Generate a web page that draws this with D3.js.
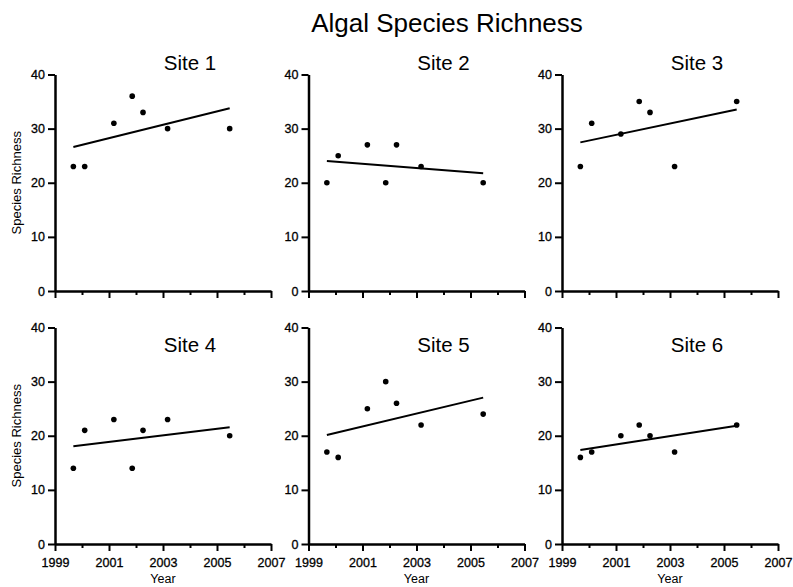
<!DOCTYPE html>
<html>
<head>
<meta charset="utf-8">
<script src="https://cdn.jsdelivr.net/npm/d3@7"></script>
<style>
  body { margin: 0; background: #fff; }
  svg { display: block; font-family: Arial, "Liberation Sans", sans-serif; }
</style>
</head>
<body>
<main></main>
<script>
// sampling dates (decimal years) shared by all sites
const years = [1999.68, 2000.1, 2001.18, 2001.86, 2002.26, 2003.17, 2005.47];

const siteNames = ['Site 1', 'Site 2', 'Site 3', 'Site 4', 'Site 5', 'Site 6'];

const site1 = [23, 23, 31, 36, 33, 30, 30];
const site2 = [20, 25, 27, 20, 27, 23, 20];
const site3 = [23, 31, 29, 35, 33, 23, 35];
const site4 = [14, 21, 23, 14, 21, 23, 20];
const site5 = [17, 16, 25, 30, 26, 22, 24];
const site6 = [16, 17, 20, 22, 20, 17, 22];

const siteValues = [site1, site2, site3, site4, site5, site6];

const majorYears = [1999, 2001, 2003, 2005, 2007];
const minorYears = [2000, 2002, 2004, 2006];
const yTicks = [0, 10, 20, 30, 40];

const w = 793;
const h = 587;
const panelW = 216;
const panelH = 216.5;
const left0 = 55;
const gapX = 37.5;
const top0 = 74.5;
const gapY = 36.5;

const svg = d3.select('main').append('svg').attr('width', w).attr('height', h);

const x = d3.scaleLinear().domain([1999, 2007]).range([0, panelW]);
const y = d3.scaleLinear().domain([0, 40]).range([panelH, 0]);

svg
  .append('text')
  .attr('x', 447)
  .attr('y', 32)
  .attr('text-anchor', 'middle')
  .style('font-size', '26px')
  .text('Algal Species Richness');

// simple least squares fit for each site
function fit(xs, ys) {
  const mx = d3.mean(xs);
  const my = d3.mean(ys);
  let sxy = 0;
  let sxx = 0;
  xs.forEach((v, i) => {
    sxy += (v - mx) * (ys[i] - my);
    sxx += (v - mx) * (v - mx);
  });
  const b = sxy / sxx;
  return (v) => my + b * (v - mx);
}

siteValues.forEach((vals, i) => {
  const col = i % 3;
  const row = Math.floor(i / 3);
  const g = svg
    .append('g')
    .attr('transform', `translate(${left0 + col * (panelW + gapX)},${top0 + row * (panelH + gapY)})`);

  // y axis
  const ya = g
    .append('g')
    .call(d3.axisLeft(y).tickValues(yTicks).tickSize(7).tickSizeOuter(0).tickPadding(3));

  // x axis, major then minor ticks
  const xa = g
    .append('g')
    .attr('transform', `translate(0,${panelH})`)
    .call(
      d3
        .axisBottom(x)
        .tickValues(majorYears)
        .tickFormat(row === 1 ? d3.format('d') : () => '')
        .tickSize(7)
        .tickSizeOuter(0)
        .tickPadding(7)
    );
  const xm = g
    .append('g')
    .attr('transform', `translate(0,${panelH})`)
    .call(d3.axisBottom(x).tickValues(minorYears).tickFormat('').tickSize(4).tickSizeOuter(0));
  xm.select('.domain').remove();

  [ya, xa, xm].forEach((a) => {
    a.selectAll('.domain').attr('stroke', '#000').attr('stroke-width', 2.5);
    a.selectAll('.tick line').attr('stroke', '#000').attr('stroke-width', 2);
    a.selectAll('.tick text')
      .attr('fill', '#000')
      .attr('stroke', '#000')
      .attr('stroke-width', 0.3)
      .style('font-size', '12.5px')
      .style('font-family', 'Arial, "Liberation Sans", sans-serif');
  });

  // regression line
  const f = fit(years, vals);
  const x0 = d3.min(years);
  const x1 = d3.max(years);
  g.append('line')
    .attr('x1', x(x0))
    .attr('y1', y(f(x0)))
    .attr('x2', x(x1))
    .attr('y2', y(f(x1)))
    .attr('stroke', '#000')
    .attr('stroke-width', 2);

  g.selectAll('circle')
    .data(vals)
    .enter()
    .append('circle')
    .attr('cx', (d, j) => x(years[j]))
    .attr('cy', (d) => y(d))
    .attr('r', 2.8)
    .attr('fill', '#000');

  g.append('text')
    .attr('x', 135)
    .attr('y', row === 0 ? -4.5 : 24.5)
    .attr('text-anchor', 'middle')
    .style('font-size', '20.5px')
    .text(siteNames[i]);

  if (col === 0) {
    g.append('text')
      .attr('transform', `translate(${21 - left0},${panelH / 2}) rotate(-90)`)
      .attr('text-anchor', 'middle')
      .style('font-size', '13px')
      .text('Species Richness');
  }
  if (row === 1) {
    g.append('text')
      .attr('x', panelW / 2)
      .attr('y', panelH + 39)
      .attr('text-anchor', 'middle')
      .style('font-size', '12.5px')
      .text('Year');
  }
});
</script>
</body>
</html>
